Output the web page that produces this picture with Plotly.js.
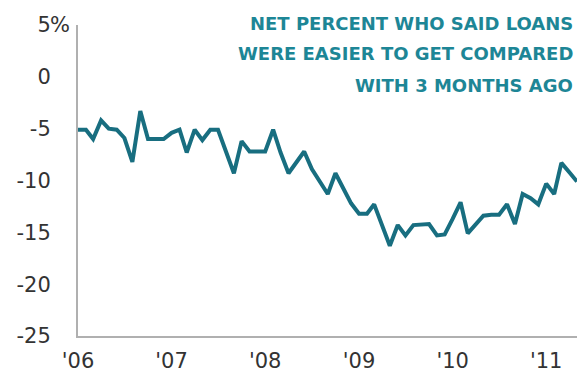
<!DOCTYPE html>
<html>
<head>
<meta charset="utf-8">
<script src="https://cdn.plot.ly/plotly-3.0.1.min.js"></script>
<style>html,body{margin:0;padding:0;background:#fff;}#chart{width:578px;height:373px;}</style>
</head>
<body>
<div id="chart"></div>
<script>
// Monthly net percent, Jan 2006 - May 2011
const startYear = 2006;
const values = [
  -5.1, -5.1, -6.0, -4.2, -5.0, -5.1, -5.9, -8.2, -3.3, -6.0, -6.0, -6.0,
  -5.4, -5.1, -7.3, -5.1, -6.1, -5.1, -5.1, -7.2, -9.3, -6.2, -7.2, -7.2,
  -7.2, -5.1, -7.3, -9.3, -8.3, -7.2, -8.9, -10.1, -11.3, -9.3, -10.8, -12.2,
  -13.2, -13.2, -12.3, -14.3, -16.3, -14.3, -15.3, -14.3, -14.2, -14.2, -15.3, -15.2,
  -13.7, -12.1, -15.1, -14.2, -13.4, -13.3, -13.3, -12.3, -14.2, -11.3, -11.7, -12.3,
  -10.3, -11.3, -8.3, -9.2, -10.1
];
const yTickVals = [5, 0, -5, -10, -15, -20, -25];
const yTickText = ['5', '0', '-5', '-10', '-15', '-20', '-25'];
const yUnit = '%';
const xTickVals = ['2006-01-01', '2007-01-01', '2008-01-01', '2009-01-01', '2010-01-01', '2011-01-01'];
const xTickText = ["'06", "'07", "'08", "'09", "'10", "'11"];
const titleLines = ['NET PERCENT WHO SAID LOANS', 'WERE EASIER TO GET COMPARED', 'WITH 3 MONTHS AGO'];

const dates = values.map((v, i) => {
  const y = startYear + Math.floor(i / 12);
  const m = (i % 12) + 1;
  return y + '-' + String(m).padStart(2, '0') + '-01';
});

const TICKFONT = '"DejaVu Sans", "Open Sans", sans-serif';
const TITLEFONT = '"DejaVu Sans", "Open Sans", sans-serif';
const titleColor = '#1d8696';
const tickColor = '#333';

const trace = {
  x: dates, y: values, type: 'scatter', mode: 'lines',
  line: {color: '#186e80', width: 4, shape: 'linear'},
  hoverinfo: 'skip'
};

// title line centres in paper units (plot spans y=25..336 px)
const titleY = [1.006, 0.907, 0.807];
const annotations = titleLines.map((t, i) => ({
  text: '<b>' + t + '</b>', xref: 'paper', x: 1, xanchor: 'right', xshift: -2,
  yref: 'paper', y: titleY[i], yanchor: 'middle', showarrow: false,
  font: {family: TITLEFONT, size: 18, color: titleColor}
}));
// unit sign hanging right of the top tick label
annotations.push({
  text: yUnit, xref: 'paper', x: 0, xanchor: 'left', xshift: -29,
  yref: 'y', y: yTickVals[0], yanchor: 'middle', showarrow: false, borderpad: 0,
  font: {family: TICKFONT, size: 21, color: tickColor}
});

const layout = {
  width: 578, height: 373,
  margin: {l: 78, r: 1, t: 25, b: 37, pad: 0},
  paper_bgcolor: '#fff', plot_bgcolor: '#fff',
  showlegend: false,
  font: {family: TICKFONT, color: tickColor},
  xaxis: {
    type: 'date', range: ['2006-01-01', '2011-05-01'],
    tickmode: 'array', tickvals: xTickVals, ticktext: xTickText,
    showgrid: false, zeroline: false, showline: true, linecolor: '#b0b0b0', linewidth: 2,
    ticks: '', ticklabelstandoff: 5, tickfont: {family: TICKFONT, size: 21, color: tickColor},
    fixedrange: true
  },
  yaxis: {
    range: [-25, 5], tickmode: 'array', tickvals: yTickVals, ticktext: yTickText,
    showgrid: false, zeroline: false, showline: true, linecolor: '#b0b0b0', linewidth: 2,
    ticks: '', ticklabelstandoff: 21, tickfont: {family: TICKFONT, size: 21, color: tickColor},
    fixedrange: true
  },
  annotations: annotations
};

Plotly.newPlot('chart', [trace], layout, {displayModeBar: false, staticPlot: true});
</script>
</body>
</html>
